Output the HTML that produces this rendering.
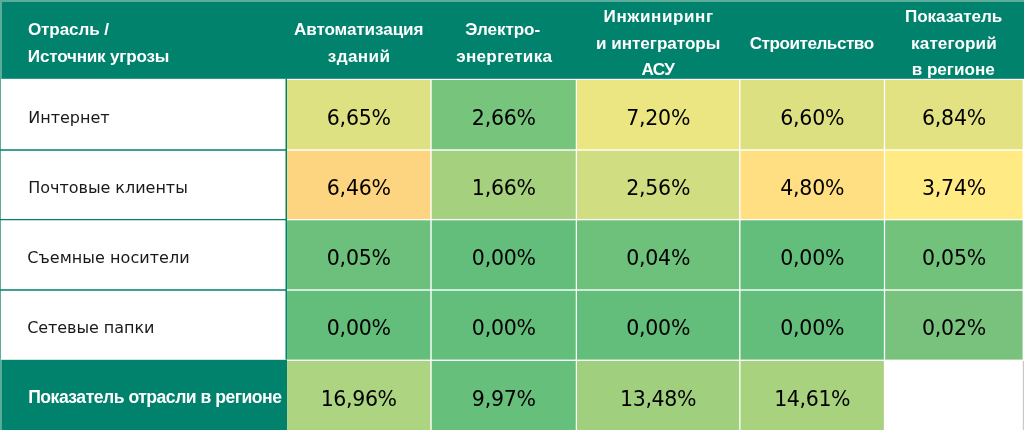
<!DOCTYPE html>
<html lang="ru"><head><meta charset="utf-8"><title>Таблица</title>
<style>html,body{margin:0;padding:0;background:#fff}body{width:1024px;height:430px;overflow:hidden}svg{display:block}text{font-family:"Liberation Sans",sans-serif}.h{font-weight:bold;font-size:17.1px;fill:#fff}.f{font-size:17.6px}.l{font-family:"DejaVu Sans","Liberation Sans",sans-serif;font-size:16px;fill:#1a1a1a}.v{font-family:"DejaVu Sans","Liberation Sans",sans-serif;font-size:20.5px;fill:#000}</style></head><body>
<svg width="1024" height="430" viewBox="0 0 1024 430">
<rect x="0" y="0" width="1024" height="430" fill="#fff"/>
<rect x="0" y="0" width="1024" height="78.8" fill="#00826d"/>
<rect x="0" y="0" width="1024" height="2" fill="#5cac9c"/>
<rect x="0" y="359.8" width="287.0" height="70.2" fill="#00826d"/>
<rect x="0" y="0" width="2" height="78.8" fill="#5cac9c"/>
<rect x="0" y="359.8" width="1.9" height="70.2" fill="#5cac9c"/>
<rect x="0" y="78.6" width="1.0" height="281" fill="#5cac9c"/>
<rect x="285.5" y="78.6" width="1.5" height="281" fill="#00826d"/>
<rect x="0" y="149.25" width="286" height="1.50" fill="#00826d"/>
<rect x="0" y="219.0" width="286" height="1.25" fill="#00826d"/>
<rect x="0" y="289.25" width="286" height="1.50" fill="#00826d"/>
<rect x="287.05" y="80.0" width="143.25" height="69.30" fill="#dde182"/>
<rect x="431.7" y="80.0" width="144.05" height="69.30" fill="#77c47d"/>
<rect x="577.0" y="80.0" width="162.15" height="69.30" fill="#ebe582"/>
<rect x="740.5" y="80.0" width="143.35" height="69.30" fill="#dce081"/>
<rect x="885.15" y="80.0" width="137.45" height="69.30" fill="#e2e282"/>
<rect x="287.05" y="150.7" width="143.25" height="68.25" fill="#fdd47f"/>
<rect x="431.7" y="150.7" width="144.05" height="68.25" fill="#a5d17e"/>
<rect x="577.0" y="150.7" width="162.15" height="68.25" fill="#d1dd81"/>
<rect x="740.5" y="150.7" width="143.35" height="68.25" fill="#ffdf82"/>
<rect x="885.15" y="150.7" width="137.45" height="68.25" fill="#ffea84"/>
<rect x="287.05" y="220.3" width="143.25" height="69.00" fill="#6dc07b"/>
<rect x="431.7" y="220.3" width="144.05" height="69.00" fill="#63be7b"/>
<rect x="577.0" y="220.3" width="162.15" height="69.00" fill="#6dc17b"/>
<rect x="740.5" y="220.3" width="143.35" height="69.00" fill="#63be7b"/>
<rect x="885.15" y="220.3" width="137.45" height="69.00" fill="#73c27c"/>
<rect x="287.05" y="290.7" width="143.25" height="68.90" fill="#63be7b"/>
<rect x="431.7" y="290.7" width="144.05" height="68.90" fill="#63be7b"/>
<rect x="577.0" y="290.7" width="162.15" height="68.90" fill="#63be7b"/>
<rect x="740.5" y="290.7" width="143.35" height="68.90" fill="#63be7b"/>
<rect x="885.15" y="290.7" width="137.45" height="68.90" fill="#79c27d"/>
<rect x="287.05" y="361.0" width="143.25" height="69.00" fill="#add480"/>
<rect x="431.7" y="361.0" width="144.05" height="69.00" fill="#66bf7b"/>
<rect x="577.0" y="361.0" width="162.15" height="69.00" fill="#a0cf7e"/>
<rect x="740.5" y="361.0" width="143.35" height="69.00" fill="#a9d27f"/>
<rect x="1022.8" y="360.9" width="1.2" height="69.1" fill="#c9c9c9"/>
<text class="h" x="27.9" y="35.4" textLength="81.1" lengthAdjust="spacing">Отрасль /</text>
<text class="h" x="27.8" y="62.1" textLength="141.6" lengthAdjust="spacing">Источник угрозы</text>
<text class="h" x="293.9" y="35.0" textLength="129.6" lengthAdjust="spacing">Автоматизация</text>
<text class="h" x="327.8" y="62.1" textLength="62.2" lengthAdjust="spacing">зданий</text>
<text class="h" x="465.3" y="35.0" textLength="74.8" lengthAdjust="spacing">Электро-</text>
<text class="h" x="456.15" y="62.1" textLength="95.9" lengthAdjust="spacing">энергетика</text>
<text class="h" x="603.6" y="22.3" textLength="109.4" lengthAdjust="spacing">Инжиниринг</text>
<text class="h" x="596.05" y="48.7" textLength="124.3" lengthAdjust="spacing">и интеграторы</text>
<text class="h" x="641.55" y="75.1" textLength="33.3" lengthAdjust="spacing">АСУ</text>
<text class="h" x="749.7" y="48.7" textLength="124.4" lengthAdjust="spacing">Строительство</text>
<text class="h" x="905.0" y="22.3" textLength="97.2" lengthAdjust="spacing">Показатель</text>
<text class="h" x="911.1" y="48.7" textLength="85.6" lengthAdjust="spacing">категорий</text>
<text class="h" x="911.7" y="75.1" textLength="83.0" lengthAdjust="spacing">в регионе</text>
<text class="h f" x="28.2" y="403.3" textLength="253.8" lengthAdjust="spacing">Показатель отрасли в регионе</text>
<text class="l" x="28.2" y="122.6" textLength="81.5" lengthAdjust="spacing">Интернет</text>
<text class="l" x="28.2" y="193" textLength="159.6" lengthAdjust="spacing">Почтовые клиенты</text>
<text class="l" x="27.2" y="263.2" textLength="162.5" lengthAdjust="spacing">Съемные носители</text>
<text class="l" x="27.2" y="333.2" textLength="127.2" lengthAdjust="spacing">Сетевые папки</text>
<text class="v" x="326.78" y="124.5" textLength="64.2" lengthAdjust="spacing">6,65%</text>
<text class="v" x="471.83" y="124.5" textLength="64.2" lengthAdjust="spacing">2,66%</text>
<text class="v" x="626.18" y="124.5" textLength="64.2" lengthAdjust="spacing">7,20%</text>
<text class="v" x="780.27" y="124.5" textLength="64.2" lengthAdjust="spacing">6,60%</text>
<text class="v" x="921.97" y="124.5" textLength="64.2" lengthAdjust="spacing">6,84%</text>
<text class="v" x="326.78" y="194.8" textLength="64.2" lengthAdjust="spacing">6,46%</text>
<text class="v" x="471.83" y="194.8" textLength="64.2" lengthAdjust="spacing">1,66%</text>
<text class="v" x="626.18" y="194.8" textLength="64.2" lengthAdjust="spacing">2,56%</text>
<text class="v" x="780.27" y="194.8" textLength="64.2" lengthAdjust="spacing">4,80%</text>
<text class="v" x="921.97" y="194.8" textLength="64.2" lengthAdjust="spacing">3,74%</text>
<text class="v" x="326.78" y="265.1" textLength="64.2" lengthAdjust="spacing">0,05%</text>
<text class="v" x="471.83" y="265.1" textLength="64.2" lengthAdjust="spacing">0,00%</text>
<text class="v" x="626.18" y="265.1" textLength="64.2" lengthAdjust="spacing">0,04%</text>
<text class="v" x="780.27" y="265.1" textLength="64.2" lengthAdjust="spacing">0,00%</text>
<text class="v" x="921.97" y="265.1" textLength="64.2" lengthAdjust="spacing">0,05%</text>
<text class="v" x="326.78" y="335.4" textLength="64.2" lengthAdjust="spacing">0,00%</text>
<text class="v" x="471.83" y="335.4" textLength="64.2" lengthAdjust="spacing">0,00%</text>
<text class="v" x="626.18" y="335.4" textLength="64.2" lengthAdjust="spacing">0,00%</text>
<text class="v" x="780.27" y="335.4" textLength="64.2" lengthAdjust="spacing">0,00%</text>
<text class="v" x="921.97" y="335.4" textLength="64.2" lengthAdjust="spacing">0,02%</text>
<text class="v" x="320.68" y="405.7" textLength="76.4" lengthAdjust="spacing">16,96%</text>
<text class="v" x="471.83" y="405.7" textLength="64.2" lengthAdjust="spacing">9,97%</text>
<text class="v" x="620.08" y="405.7" textLength="76.4" lengthAdjust="spacing">13,48%</text>
<text class="v" x="774.18" y="405.7" textLength="76.4" lengthAdjust="spacing">14,61%</text>
</svg></body></html>
